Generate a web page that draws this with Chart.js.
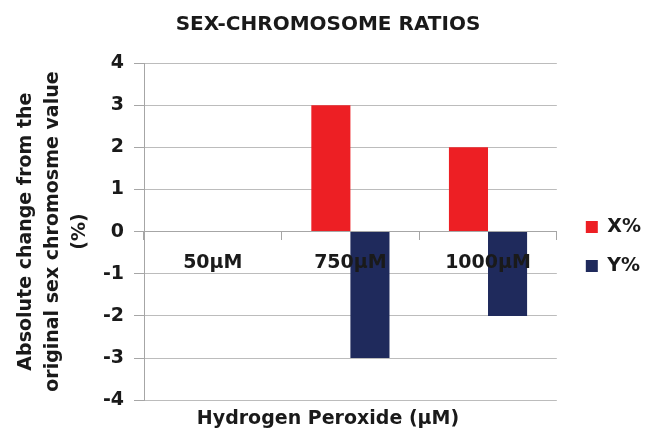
<!DOCTYPE html>
<html>
<head>
<meta charset="utf-8">
<script src="https://cdn.jsdelivr.net/npm/chart.js@4.4.0/dist/chart.umd.min.js"></script>
<style>
  html, body { margin: 0; padding: 0; background: #fff; }
  #wrap { width: 653px; height: 445px; }
</style>
</head>
<body>
<div id="wrap"><canvas id="chart" width="653" height="445"></canvas></div>
<script>
  // chart values
  const categories = ['50µM', '750µM', '1000µM'];
  const xPercent = [0, 3, 2];
  const yPercent = [0, -3, -2];
  const yTicks = [-4, -3, -2, -1, 0, 1, 2, 3, 4];

  const FONT = 'DejaVu Sans';
  const GRID = '#bcbcbc';
  const AXIS = '#a6a6a6';

  new Chart(document.getElementById('chart').getContext('2d'), {
    type: 'bar',
    data: {
      labels: categories,
      datasets: [
        { label: 'X%', data: xPercent, backgroundColor: '#ed1f24', borderWidth: 0 },
        { label: 'Y%', data: yPercent, backgroundColor: '#1f2a5c', borderWidth: 0 }
      ]
    },
    options: {
      responsive: false,
      animation: false,
      layout: { padding: { left: 5, right: 2, top: 0, bottom: 0 } },
      datasets: { bar: { categoryPercentage: 0.568, barPercentage: 1 } },
      plugins: {
        title: {
          display: true,
          text: 'SEX-CHROMOSOME RATIOS',
          color: '#1a1a1a',
          font: { family: FONT, size: 20, weight: 'bold' },
          padding: { top: 13, bottom: 26 }
        },
        subtitle: {
          display: true,
          position: 'bottom',
          text: 'Hydrogen Peroxide (µM)',
          color: '#1a1a1a',
          font: { family: FONT, size: 19, weight: 'bold' },
          padding: { top: 7, bottom: 15 }
        },
        legend: {
          position: 'right',
          fullSize: false,
          title: { display: true, text: ' ', font: { size: 10 }, padding: { top: 9, bottom: 9 } },
          labels: {
            color: '#1a1a1a',
            font: { family: FONT, size: 19, weight: 'bold' },
            boxWidth: 12, boxHeight: 12, padding: 20
          }
        },
        tooltip: { enabled: false }
      },
      scales: {
        x: {
          position: { y: 0 },
          offset: true,
          grid: { offset: true, drawOnChartArea: false, drawTicks: true, tickLength: 8, color: AXIS },
          border: { color: AXIS },
          // labels sit on top of the bars, as in the original
          ticks: { z: 1, color: '#1a1a1a', padding: 12, font: { family: FONT, size: 19, weight: 'bold' } }
        },
        y: {
          position: 'left',
          min: yTicks[0],
          max: yTicks[yTicks.length - 1],
          afterBuildTicks: axis => { axis.ticks = yTicks.map(v => ({ value: v })); },
          afterFit: axis => { axis.width = 139; },
          grid: { color: GRID, tickLength: 10, tickColor: AXIS },
          border: { color: AXIS },
          ticks: { color: '#1a1a1a', padding: 10, font: { family: FONT, size: 19, weight: 'bold' } },
          title: {
            display: true,
            text: ['Absolute change from the', 'original sex chromosme value', '(%)'],
            color: '#1a1a1a',
            font: { family: FONT, size: 19, weight: 'bold', lineHeight: 1.42 },
            padding: { top: 8, bottom: 4 }
          }
        },
        // empty spacer between the plot and the legend
        gap: {
          type: 'linear',
          position: 'right',
          display: true,
          grid: { display: false },
          border: { display: false },
          ticks: { display: false },
          afterFit: axis => { axis.width = 9; }
        }
      }
    }
  });
</script>
</body>
</html>
